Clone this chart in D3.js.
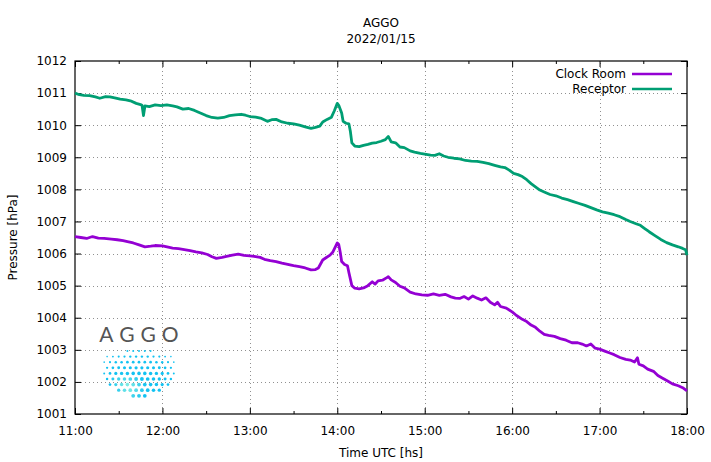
<!DOCTYPE html>
<html>
<head>
<meta charset="utf-8">
<script src="https://cdn.jsdelivr.net/npm/d3@7"></script>
<style>
  body { margin: 0; background: #fff; }
  svg text { font-family: "DejaVu Sans", sans-serif; font-size: 12px; fill: #000; }
</style>
</head>
<body>
<div id="chart"></div>
<script>
// Clock Room (purple)
const clockTimes = [
  '11:00','11:04','11:08','11:12','11:16','11:20','11:25','11:29','11:33','11:36','11:40','11:44','11:48','11:52','11:55',
  '12:00','12:04','12:07','12:11','12:15','12:19','12:23','12:27','12:31','12:34','12:37','12:41','12:44','12:48','12:52','12:56',
  '13:00','13:03','13:07','13:10','13:14','13:18','13:22','13:26','13:30','13:34','13:38','13:42','13:45','13:47','13:50','13:52','13:55','13:57',
  '14:00','14:01','14:02','14:03','14:05','14:07','14:08','14:10','14:12','14:15','14:18','14:21','14:24','14:26','14:28','14:31','14:34','14:35','14:37','14:40','14:43','14:46','14:50','14:54','14:58',
  '15:02','15:06','15:10','15:14','15:18','15:21','15:24','15:27','15:30','15:33','15:36','15:39','15:42','15:45','15:48','15:50','15:52','15:56',
  '16:00','16:03','16:07','16:10','16:13','16:16','16:19','16:22','16:25','16:29','16:33','16:37','16:41','16:45','16:48','16:51','16:54','16:57',
  '17:00','17:04','17:07','17:10','17:14','17:18','17:21','17:24','17:26','17:27','17:30','17:33','17:37','17:40','17:43','17:47','17:50','17:54','17:57','18:00'
]
const clockValues = [
  1006.53,1006.50,1006.47,1006.53,1006.48,1006.47,1006.45,1006.43,1006.40,1006.37,1006.33,1006.27,1006.21,1006.23,1006.25,
  1006.24,1006.20,1006.17,1006.15,1006.12,1006.09,1006.05,1006.02,1005.97,1005.90,1005.85,1005.88,1005.91,1005.95,1005.98,1005.94,
  1005.93,1005.91,1005.88,1005.82,1005.78,1005.75,1005.70,1005.66,1005.62,1005.59,1005.55,1005.49,1005.50,1005.55,1005.80,1005.86,1005.95,1006.05,
  1006.33,1006.28,1006.05,1005.75,1005.66,1005.62,1005.40,1005.00,1004.92,1004.90,1004.93,1005.00,1005.12,1005.05,1005.15,1005.17,1005.25,1005.28,1005.18,1005.10,1004.98,1004.93,1004.80,1004.74,1004.71,
  1004.70,1004.74,1004.70,1004.73,1004.65,1004.61,1004.60,1004.66,1004.58,1004.68,1004.61,1004.55,1004.62,1004.48,1004.40,1004.48,1004.35,1004.30,
  1004.18,1004.07,1003.95,1003.88,1003.77,1003.70,1003.58,1003.48,1003.45,1003.42,1003.35,1003.30,1003.22,1003.22,1003.18,1003.12,1003.18,1003.05,
  1003.02,1002.95,1002.90,1002.85,1002.76,1002.70,1002.68,1002.62,1002.75,1002.55,1002.50,1002.40,1002.33,1002.20,1002.12,1002.02,1001.94,1001.88,1001.82,1001.72
]

// Receptor (green)
const receptorTimes = [
  '11:00','11:03','11:06','11:10','11:14','11:17','11:21','11:24','11:28','11:31','11:35','11:38','11:42','11:45','11:46','11:47','11:48','11:51','11:55','11:59',
  '12:03','12:07','12:10','12:14','12:18','12:22','12:26','12:30','12:34','12:38','12:42','12:46','12:50','12:54','12:57',
  '13:00','13:04','13:08','13:12','13:15','13:18','13:22','13:26','13:30','13:34','13:38','13:42','13:45','13:48','13:50','13:53','13:56','13:58',
  '14:00','14:01','14:03','14:04','14:06','14:08','14:09','14:10','14:12','14:15','14:18','14:21','14:24','14:27','14:30','14:33','14:35','14:37','14:40','14:43','14:46','14:50','14:53','14:57',
  '15:00','15:04','15:07','15:10','15:13','15:16','15:20','15:24','15:28','15:32','15:36','15:40','15:44','15:48','15:52','15:55','15:58',
  '16:01','16:04','16:07','16:10','16:13','16:16','16:19','16:22','16:26','16:30','16:34','16:38','16:42','16:46','16:50','16:54','16:58',
  '17:02','17:06','17:10','17:14','17:18','17:21','17:25','17:28','17:31','17:34','17:38','17:42','17:46','17:50','17:54','17:57','17:59','18:00'
]
const receptorValues = [
  1011.00,1010.95,1010.93,1010.92,1010.88,1010.84,1010.89,1010.88,1010.84,1010.81,1010.79,1010.76,1010.68,1010.64,1010.62,1010.30,1010.60,1010.58,1010.63,1010.61,
  1010.63,1010.60,1010.57,1010.50,1010.52,1010.46,1010.38,1010.30,1010.24,1010.22,1010.24,1010.30,1010.32,1010.34,1010.31,
  1010.27,1010.25,1010.21,1010.12,1010.17,1010.18,1010.10,1010.06,1010.04,1010.00,1009.95,1009.90,1009.93,1009.97,1010.10,1010.18,1010.25,1010.45,
  1010.68,1010.62,1010.38,1010.12,1010.06,1010.04,1009.80,1009.45,1009.35,1009.33,1009.37,1009.40,1009.44,1009.46,1009.50,1009.55,1009.65,1009.48,1009.45,1009.32,1009.30,1009.20,1009.16,1009.12,
  1009.10,1009.07,1009.06,1009.11,1009.04,1009.00,1008.97,1008.95,1008.90,1008.88,1008.87,1008.84,1008.80,1008.75,1008.70,1008.68,1008.60,
  1008.50,1008.46,1008.40,1008.30,1008.18,1008.08,1007.98,1007.92,1007.84,1007.80,1007.73,1007.68,1007.62,1007.56,1007.50,1007.43,1007.36,
  1007.30,1007.26,1007.21,1007.15,1007.06,1007.00,1006.93,1006.88,1006.78,1006.68,1006.56,1006.44,1006.34,1006.27,1006.21,1006.16,1006.12,1005.95
]

const seriesNames = ['Clock Room', 'Receptor']
const seriesColors = ['#9400d3', '#009e73']
const yTicks = [1001, 1002, 1003, 1004, 1005, 1006, 1007, 1008, 1009, 1010, 1011, 1012]

const width = 711, height = 462
const margin = { left: 75, right: 24, top: 61, bottom: 48 }
const parse = d3.utcParse('%H:%M')

const svg = d3.select('#chart').append('svg')
  .attr('width', width)
  .attr('height', height)

const x = d3.scaleUtc()
  .domain([parse('11:00'), parse('18:00')])
  .range([margin.left, width - margin.right])
const y = d3.scaleLinear()
  .domain([1001, 1012])
  .range([height - margin.bottom, margin.top])

const plotLeft = x.range()[0], plotRight = x.range()[1]
const plotBottom = y.range()[0], plotTop = y.range()[1]
const hours = d3.utcHour.range(parse('11:00'), d3.utcMinute.offset(parse('18:00'), 1))
const halfHours = d3.utcMinute.every(30).range(parse('11:00'), d3.utcMinute.offset(parse('18:00'), 1))
  .filter(d => d.getUTCMinutes() === 30)

// grid: dotted, drawn as 1px squares every 4px
const gridDots = []
hours.slice(1, -1).forEach(d => {
  const gx = Math.round(x(d))
  d3.range(plotTop + 2, plotBottom - 1, 4).forEach(gy => gridDots.push([gx, gy]))
})
yTicks.slice(1, -1).forEach(v => {
  const gy = Math.round(y(v))
  d3.range(plotLeft + 2, plotRight - 1, 4).forEach(gx => gridDots.push([gx, gy]))
})
svg.append('g').attr('fill', '#909090')
  .selectAll('rect').data(gridDots).join('rect')
  .attr('x', d => d[0]).attr('y', d => d[1])
  .attr('width', 1).attr('height', 1)

// axes
const styleAxis = g => {
  g.select('.domain').remove()
  g.selectAll('line').attr('stroke', '#000')
  g.selectAll('text').style('font-family', '"DejaVu Sans", sans-serif').style('font-size', '12px').attr('fill', '#000')
}
svg.append('g').attr('transform', `translate(0,${plotBottom})`)
  .call(d3.axisBottom(x).tickValues(hours).tickFormat(d3.utcFormat('%H:%M')).tickSizeInner(-6).tickSizeOuter(0).tickPadding(12))
  .call(styleAxis)
svg.append('g').attr('transform', `translate(0,${plotBottom})`)
  .call(d3.axisBottom(x).tickValues(halfHours).tickFormat('').tickSizeInner(-3).tickSizeOuter(0))
  .call(styleAxis)
svg.append('g').attr('transform', `translate(0,${plotTop})`)
  .call(d3.axisTop(x).tickValues(hours).tickFormat('').tickSizeInner(-6).tickSizeOuter(0))
  .call(styleAxis)
svg.append('g').attr('transform', `translate(0,${plotTop})`)
  .call(d3.axisTop(x).tickValues(halfHours).tickFormat('').tickSizeInner(-3).tickSizeOuter(0))
  .call(styleAxis)
svg.append('g').attr('transform', `translate(${plotLeft},0)`)
  .call(d3.axisLeft(y).tickValues(yTicks).tickFormat(d3.format('d')).tickSizeInner(-6).tickSizeOuter(0).tickPadding(8))
  .call(styleAxis)
svg.append('g').attr('transform', `translate(${plotRight},0)`)
  .call(d3.axisRight(y).tickValues(yTicks).tickFormat('').tickSizeInner(-6).tickSizeOuter(0))
  .call(styleAxis)

// border
svg.append('rect')
  .attr('x', plotLeft).attr('y', plotTop)
  .attr('width', plotRight - plotLeft).attr('height', plotBottom - plotTop)
  .attr('fill', 'none').attr('stroke', '#000').attr('stroke-width', 1.2)

// logo
const logo = svg.append('g')
logo.append('text')
  .attr('x', 142).attr('y', 342)
  .attr('text-anchor', 'middle')
  .style('font-family', 'Lato, "DejaVu Sans", sans-serif')
  .style('font-size', '21px').style('letter-spacing', '6px')
  .style('fill', '#555')
  .text('AGGO')
const logoDots = []
for (let row = 0; row < 9; row++) {
  const py = 351 + row * 5.6
  for (let col = -7; col <= 7; col++) {
    const px = 139 + col * 5.8 + (row % 2 ? 2.9 : 0)
    const u = (px - 139) / 37
    if (Math.abs(u) >= 1) continue
    const s = Math.sqrt(1 - u * u)
    const yTop = 366 - 15 * Math.pow(s, 0.4), yBot = 366 + 31 * s
    if (py < yTop - 0.5 || py > yBot) continue
    const t = (py - yTop) / Math.max(1, yBot - yTop)
    logoDots.push({ px, py, u, s, t })
  }
}
const light = d3.interpolateRgb('#12c2f2', '#8cf2e2')
logo.selectAll('circle').data(logoDots).join('circle')
  .attr('cx', d => d.px).attr('cy', d => d.py)
  .attr('r', d => 0.5 + 1.4 * d.s * (0.35 + 0.65 * Math.min(1, d.t * 1.8)))
  .attr('fill', d => {
    const k = Math.max(0, 1 - Math.hypot(d.u + 0.3, (d.t - 0.8) * 1.6) * 2)
    return light(k)
  })

// lines
const line = d3.line().x(d => x(d[0])).y(d => y(d[1]))
const series = [
  clockTimes.map((t, i) => [parse(t), clockValues[i]]),
  receptorTimes.map((t, i) => [parse(t), receptorValues[i]])
]
svg.append('g').selectAll('path').data(series).join('path')
  .attr('d', line)
  .attr('fill', 'none')
  .attr('stroke', (d, i) => seriesColors[i])
  .attr('stroke-width', 2.8)
  .attr('stroke-linejoin', 'round')

// legend
const legend = svg.append('g').selectAll('g').data(seriesNames).join('g')
  .attr('transform', (d, i) => `translate(0,${74 + i * 15})`)
legend.append('text')
  .attr('x', 626).attr('dy', '0.35em')
  .attr('text-anchor', 'end')
  .text(d => d)
legend.append('line')
  .attr('x1', 632).attr('x2', 672)
  .attr('stroke', (d, i) => seriesColors[i])
  .attr('stroke-width', 2.5)

// titles
svg.append('text').attr('x', (plotLeft + plotRight) / 2).attr('y', 27).attr('text-anchor', 'middle').text('AGGO')
svg.append('text').attr('x', (plotLeft + plotRight) / 2).attr('y', 43).attr('text-anchor', 'middle').text('2022/01/15')
svg.append('text').attr('x', (plotLeft + plotRight) / 2).attr('y', 457).attr('text-anchor', 'middle').text('Time UTC [hs]')
svg.append('text')
  .attr('transform', `translate(17,${(plotTop + plotBottom) / 2}) rotate(-90)`)
  .attr('text-anchor', 'middle')
  .text('Pressure [hPa]')
</script>
</body>
</html>
